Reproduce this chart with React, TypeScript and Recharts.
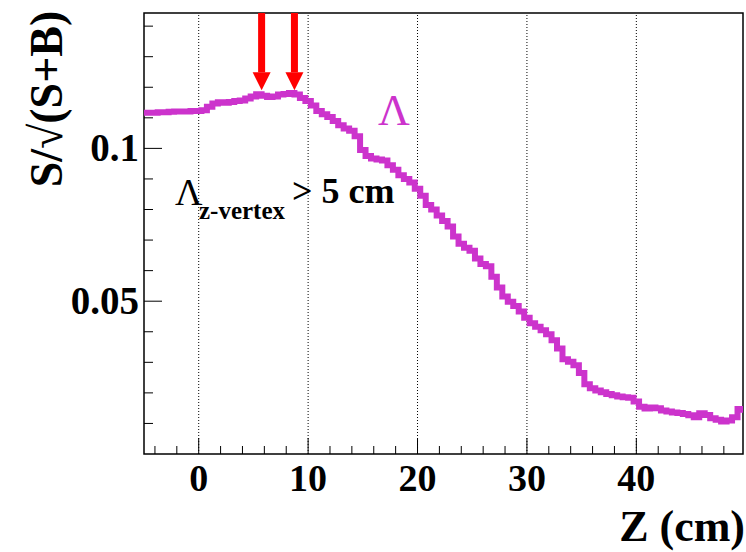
import React from 'react';
import {
  ComposedChart,
  Line,
  Scatter,
  XAxis,
  YAxis,
  ReferenceLine,
  ReferenceArea,
} from 'recharts';

// S/sqrt(S+B) per 0.5 cm bin, first bin centred at Z = -5 cm
const BIN_START = -5;
const BIN_WIDTH = 0.5;
const significance = [
  0.1117, 0.1117, 0.1117, 0.1118, 0.1118, 0.1120, 0.1121, 0.1121, 0.1121, 0.1122,
  0.1122, 0.1125, 0.1136, 0.1147, 0.1151, 0.1149, 0.1152, 0.1155, 0.1157, 0.1163,
  0.1170, 0.1177, 0.1172, 0.1168, 0.1170, 0.1176, 0.1178, 0.1181, 0.1176, 0.1165,
  0.1155, 0.1140, 0.1122, 0.1112, 0.1103, 0.1090, 0.1076, 0.1065, 0.1058, 0.1040,
  0.0995, 0.0975, 0.0967, 0.0964, 0.0960, 0.0945, 0.0930, 0.0912, 0.0900, 0.0888,
  0.0868, 0.0845, 0.0815, 0.0800, 0.0780, 0.0762, 0.0744, 0.0712, 0.0688, 0.0675,
  0.0665, 0.0640, 0.0622, 0.0614, 0.0580, 0.0545, 0.0515, 0.0498, 0.0484, 0.0466,
  0.0446, 0.0428, 0.0416, 0.0405, 0.0392, 0.0372, 0.0345, 0.0310, 0.0302, 0.0290,
  0.0265, 0.0228, 0.0215, 0.0208, 0.0202, 0.0196, 0.0192, 0.0188, 0.0186, 0.0184,
  0.0172, 0.0155, 0.0149, 0.0152, 0.0150, 0.0142, 0.0139, 0.0136, 0.0134, 0.0131,
  0.0127, 0.0120, 0.0133, 0.0128, 0.0117, 0.0112, 0.0106, 0.0110, 0.0120, 0.0147,
  0.0145,
];

// optimal cut positions marked with arrows
const arrowZ = [5.75, 8.75];
const arrowTip = [0.119, 0.119];

const X_MIN = -5;
const X_MAX = 49.75;
const Y_MIN = 0;
const Y_MAX = 0.1443;

const xTicks = [-4, -2, 0, 2, 4, 6, 8, 10, 12, 14, 16, 18, 20, 22, 24, 26, 28, 30, 32, 34, 36, 38, 40, 42, 44, 46, 48];
const xMajor = [0, 10, 20, 30, 40];
const yTicks = [0.01, 0.02, 0.03, 0.04, 0.05, 0.06, 0.07, 0.08, 0.09, 0.1, 0.11, 0.12, 0.13, 0.14];
const yMajor = [0.05, 0.1];
const yLabels = ['0.05', '0.1'];

const MAGENTA = '#cc33cc';
const serif = { fontFamily: 'Liberation Serif, DejaVu Serif, serif' };

const data = significance.map((v, i) => ({ z: BIN_START + i * BIN_WIDTH, s: v }));
const arrows = arrowZ.map((z, i) => ({ z, tip: arrowTip[i] }));

const XTick = (props: any) => {
  const { x, y, payload } = props;
  const major = xMajor.includes(payload.value);
  return (
    <g>
      <line x1={x} x2={x} y1={y} y2={y - (major ? 16 : 8)} stroke="#000" strokeWidth={1} />
      {major && (
        <text x={x} y={y + 37} textAnchor="middle" style={serif} fontWeight="bold" fontSize={38} fill="#000">
          {payload.value}
        </text>
      )}
    </g>
  );
};

const YTick = (props: any) => {
  const { x, y, payload } = props;
  const idx = yMajor.findIndex((m) => Math.abs(m - payload.value) < 1e-6);
  const major = idx >= 0;
  return (
    <g>
      <line x1={x} x2={x + (major ? 18 : 9)} y1={y} y2={y} stroke="#000" strokeWidth={1} />
      {major && (
        <text x={x - 5} y={y + 13} textAnchor="end" style={serif} fontWeight="bold" fontSize={39} fill="#000">
          {yLabels[idx]}
        </text>
      )}
    </g>
  );
};

// red arrow pointing down onto the curve
const Arrow = (props: any) => {
  const { cx, cy } = props;
  const top = 10;
  const head = 18;
  return (
    <g>
      <rect x={cx - 3.5} y={top} width={7} height={cy - head - top} fill="#ff0000" />
      <polygon points={`${cx - 9},${cy - head} ${cx + 9},${cy - head} ${cx},${cy}`} fill="#ff0000" />
    </g>
  );
};

export default function App() {
  return (
    <div style={{ position: 'absolute', left: 0, top: 0, width: 746, height: 552, background: '#fff' }}>
      <ComposedChart width={746} height={552} data={data} margin={{ top: 13, right: 3, bottom: 0, left: 0 }}>
        <XAxis
          dataKey="z"
          type="number"
          domain={[X_MIN, X_MAX]}
          allowDataOverflow
          ticks={xTicks}
          interval={0}
          tickSize={0}
          tickMargin={0}
          tickLine={false}
          axisLine={false}
          tick={(p: any) => <XTick {...p} />}
          height={98}
        />
        <YAxis
          type="number"
          domain={[Y_MIN, Y_MAX]}
          allowDataOverflow
          ticks={yTicks}
          interval={0}
          tickSize={0}
          tickMargin={0}
          tickLine={false}
          axisLine={false}
          tick={(p: any) => <YTick {...p} />}
          width={144}
        />
        {xMajor.map((v) => (
          <ReferenceLine key={v} x={v} stroke="#000" strokeWidth={1} strokeDasharray="1 2" />
        ))}
        <Line
          dataKey="s"
          type="step"
          stroke={MAGENTA}
          strokeWidth={6}
          dot={false}
          isAnimationActive={false}
        />
        <Scatter
          data={arrows}
          dataKey="tip"
          shape={(p: any) => <Arrow {...p} />}
          isAnimationActive={false}
        />
        <ReferenceArea
          x1={X_MIN}
          x2={X_MAX}
          y1={Y_MIN}
          y2={Y_MAX}
          fill="none"
          stroke="#000"
          strokeWidth={1.5}
          ifOverflow="visible"
        />
      </ComposedChart>
      <svg width={746} height={552} style={{ position: 'absolute', left: 0, top: 0, pointerEvents: 'none' }}>
        <text
          transform="translate(62,99) rotate(-90)"
          textAnchor="middle"
          style={serif}
          fontWeight="bold"
          fontSize={46}
          fill="#000"
        >
          S/√(S+B)
        </text>
        <text x={745} y={541} textAnchor="end" style={serif} fontWeight="bold" fontSize={44} fill="#000">
          Z (cm)
        </text>
        <text x={378} y={125} style={serif} fontSize={44} fill={MAGENTA}>
          Λ
        </text>
        <text x={175} y={205} style={serif} fontSize={38} fill="#000">
          Λ
        </text>
        <text x={199} y={219} style={serif} fontWeight="bold" fontSize={25} fill="#000">
          z-vertex
        </text>
        <text x={292} y={203} style={serif} fontWeight="bold" fontSize={36} fill="#000">
          {'> 5 cm'}
        </text>
      </svg>
    </div>
  );
}
